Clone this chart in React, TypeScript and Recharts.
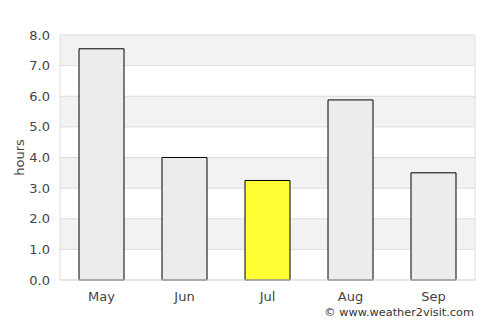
import { BarChart, Bar, XAxis, YAxis, CartesianGrid, Cell } from "recharts";

const months = ["May", "Jun", "Jul", "Aug", "Sep"];
const hours = [7.55, 4.0, 3.25, 5.88, 3.5];
const yTicks = [0, 1, 2, 3, 4, 5, 6, 7, 8];
const highlight = "Jul";

const data = months.map((m, i) => ({ month: m, hours: hours[i] }));

const FONT = "'DejaVu Sans', sans-serif";

export default function App() {
  return (
    <div
      style={{
        position: "absolute",
        left: 0,
        top: 0,
        width: 500,
        height: 325,
        background: "#fff",
        fontFamily: FONT,
      }}
    >
      <BarChart
        width={500}
        height={325}
        data={data}
        margin={{ top: 35, right: 24, bottom: 15, left: 0 }}
        barCategoryGap={0}
      >
        <CartesianGrid
          yAxisId="left"
          vertical={false}
          stroke="#dddddd"
          horizontalFill={["#f2f2f2", "#ffffff"]}
          fillOpacity={1}
        />
        <XAxis
          dataKey="month"
          stroke="#dddddd"
          tickLine={false}
          height={30}
          tick={{ fill: "#444", fontSize: 13, fontFamily: FONT, dy: 4 }}
        />
        <YAxis
          yAxisId="left"
          domain={[0, 8]}
          ticks={yTicks}
          interval={0}
          width={60}
          stroke="#dddddd"
          tickLine={false}
          tickFormatter={(v: number) => v.toFixed(1)}
          tick={{ fill: "#444", fontSize: 13, fontFamily: FONT, dx: -2 }}
          label={{
            value: "hours",
            angle: -90,
            position: "insideLeft",
            offset: 19,
            style: { fill: "#444", fontSize: 13, fontFamily: FONT, textAnchor: "middle" },
          }}
        />
        <YAxis
          yAxisId="right"
          orientation="right"
          domain={[0, 8]}
          width={1}
          stroke="#dddddd"
          tick={false}
          tickLine={false}
        />
        <Bar
          yAxisId="left"
          dataKey="hours"
          barSize={45}
          stroke="#000"
          strokeWidth={1}
          isAnimationActive={false}
        >
          {data.map((d) => (
            <Cell key={d.month} fill={d.month === highlight ? "#ffff33" : "#ececec"} />
          ))}
        </Bar>
      </BarChart>
      <div
        style={{
          position: "absolute",
          right: 26,
          top: 306,
          fontSize: 11.3,
          color: "#333",
          fontFamily: FONT,
        }}
      >
        © www.weather2visit.com
      </div>
    </div>
  );
}
